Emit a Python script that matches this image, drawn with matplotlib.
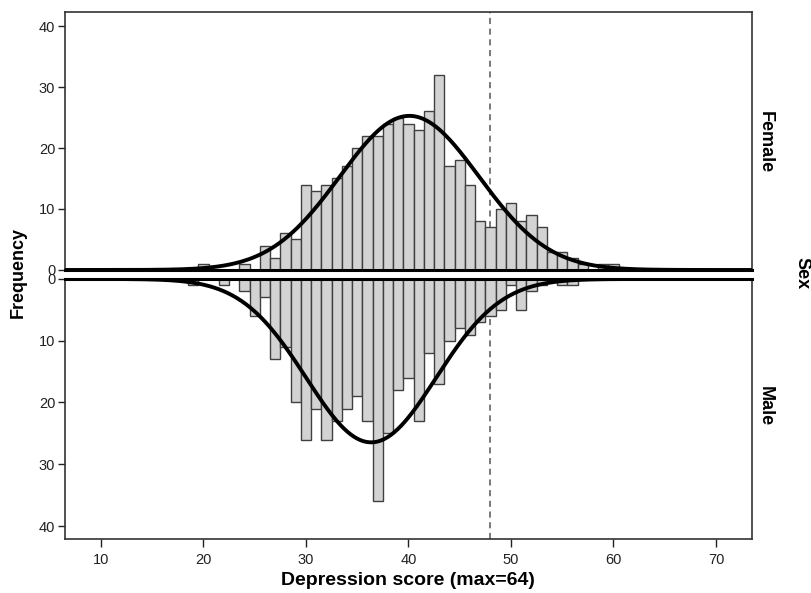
import numpy as np
import matplotlib
matplotlib.use("Agg")
import matplotlib.pyplot as plt

plt.rcParams['font.family'] = ['Liberation Sans', 'DejaVu Sans']

# histogram counts per score (bin width 1)
female_scores = [20, 24, 26, 27, 28, 29, 30, 31, 32, 33, 34, 35, 36, 37, 38, 39, 40,
                 41, 42, 43, 44, 45, 46, 47, 48, 49, 50, 51, 52, 53, 54, 55, 56, 57,
                 59, 60]
female_counts = [1, 1, 4, 2, 6, 5, 14, 13, 14, 15, 17, 20, 22, 22, 24, 25, 24,
                 23, 26, 32, 17, 18, 14, 8, 7, 10, 11, 8, 9, 7, 3, 3, 2, 1,
                 1, 1]

male_scores = [19, 22, 24, 25, 26, 27, 28, 29, 30, 31, 32, 33, 34, 35, 36, 37, 38,
               39, 40, 41, 42, 43, 44, 45, 46, 47, 48, 49, 50, 51, 52, 53, 55, 56]
male_counts = [1, 1, 2, 6, 3, 13, 11, 20, 26, 21, 26, 23, 21, 19, 23, 36, 25,
               18, 16, 23, 12, 17, 10, 8, 9, 7, 6, 5, 1, 5, 2, 1, 1, 1]

cutoff = 48
x_ticks = [10, 20, 30, 40, 50, 60, 70]
y_ticks = [0, 10, 20, 30, 40]


def normal_curve(scores, counts, x):
    # fitted normal scaled to the histogram (bin width 1)
    scores = np.array(scores, dtype=float)
    counts = np.array(counts, dtype=float)
    n = counts.sum()
    mean = (scores * counts).sum() / n
    sd = np.sqrt((counts * (scores - mean) ** 2).sum() / (n - 1))
    return n / (sd * np.sqrt(2 * np.pi)) * np.exp(-0.5 * ((x - mean) / sd) ** 2)


fig = plt.figure(figsize=(8.12, 5.93), dpi=100)
ax_f = fig.add_axes([0.080, 0.5447, 0.846, 0.4351])
ax_m = fig.add_axes([0.080, 0.0911, 0.846, 0.4385])

xs = np.linspace(6.5, 73.5, 600)

for ax, scores, counts in [(ax_f, female_scores, female_counts),
                           (ax_m, male_scores, male_counts)]:
    ax.bar(scores, counts, width=1.0, color='#d3d3d3', edgecolor='#404040',
           linewidth=1.0, zorder=2)
    ax.plot(xs, normal_curve(scores, counts, xs), color='black', linewidth=2.8,
            zorder=3, solid_capstyle='butt')
    ax.axvline(cutoff, color='#555555', linestyle=(0, (4, 3)), linewidth=1.1, zorder=1)
    ax.set_xlim(6.5, 73.5)
    ax.set_yticks(y_ticks)
    ax.tick_params(axis='y', direction='out', length=5, width=1, labelsize=10.5,
                   colors='#222222', pad=2)
    for s in ax.spines.values():
        s.set_linewidth(1.2)
        s.set_color('#333333')

ax_f.set_ylim(0, 42.3)
ax_m.set_ylim(42.1, 0)

# thick baselines where the two panels meet
ax_f.spines['bottom'].set_linewidth(2.2)
ax_f.spines['bottom'].set_color('black')
ax_m.spines['top'].set_linewidth(2.2)
ax_m.spines['top'].set_color('black')

ax_f.set_xticks([])
ax_m.set_xticks(x_ticks)
ax_m.tick_params(axis='x', direction='out', length=6, width=1, labelsize=10.5,
                 colors='#222222', pad=4)

ax_m.set_xlabel('Depression score (max=64)', fontsize=14, fontweight='bold',
                labelpad=4)
fig.text(0.022, 0.54, 'Frequency', rotation=90, ha='center', va='center',
         fontsize=13, fontweight='bold')

# facet labels on the right
fig.text(0.943, 0.760, 'Female', rotation=-90, ha='center', va='center',
         fontsize=13, fontweight='bold')
fig.text(0.943, 0.315, 'Male', rotation=-90, ha='center', va='center',
         fontsize=13, fontweight='bold')
fig.text(0.988, 0.54, 'Sex', rotation=-90, ha='center', va='center',
         fontsize=13, fontweight='bold')

fig.savefig('out.png', dpi=100)
